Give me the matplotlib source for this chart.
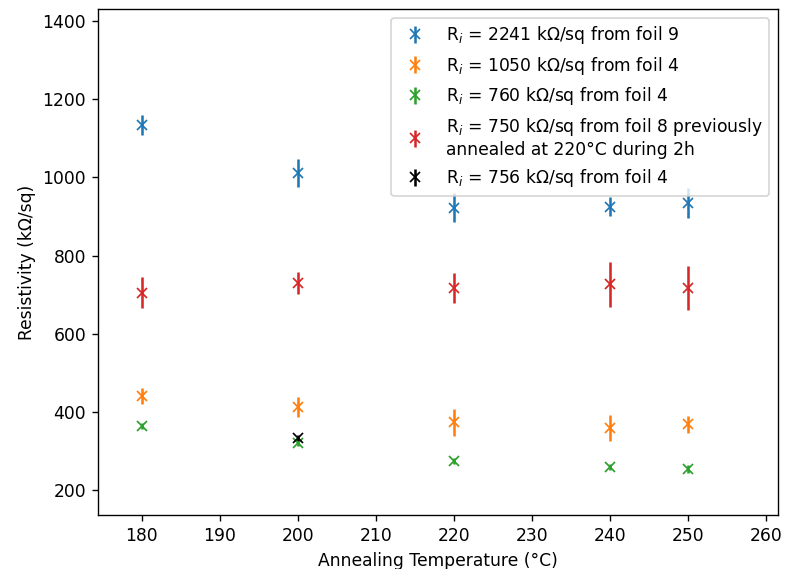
import matplotlib
matplotlib.use("Agg")
import matplotlib.pyplot as plt

temps = [180, 200, 220, 240, 250]

blue_vals = [1134, 1011, 922, 925, 934]
blue_err = [25, 35, 37, 24, 38]

orange_vals = [440, 412, 373, 359, 368]
orange_err = [20, 26, 35, 33, 22]

green_vals = [364, 320, 274, 259, 254]
green_err = [8, 8, 8, 8, 10]

red_vals = [705, 730, 717, 726, 717]
red_err = [40, 28, 38, 58, 56]

black_temps = [200]
black_vals = [333]
black_err = [8]

labels = [
    "R$_i$ = 2241 kΩ/sq from foil 9",
    "R$_i$ = 1050 kΩ/sq from foil 4",
    "R$_i$ = 760 kΩ/sq from foil 4",
    "R$_i$ = 750 kΩ/sq from foil 8 previously\nannealed at 220°C during 2h",
    "R$_i$ = 756 kΩ/sq from foil 4",
]

DPI = 123
fig = plt.figure(figsize=(785 / DPI, 569 / DPI), dpi=DPI)
ax = fig.add_axes([0.1248, 0.0949, 0.8662, 0.8893])

ax.errorbar(temps, blue_vals, yerr=blue_err, fmt='x', color='tab:blue', label=labels[0])
ax.errorbar(temps, orange_vals, yerr=orange_err, fmt='x', color='tab:orange', label=labels[1])
ax.errorbar(temps, green_vals, yerr=green_err, fmt='x', color='tab:green', label=labels[2])
ax.errorbar(temps, red_vals, yerr=red_err, fmt='x', color='tab:red', label=labels[3])
ax.errorbar(black_temps, black_vals, yerr=black_err, fmt='x', color='black', label=labels[4])

ax.set_xlim(174.4, 261.5)
ax.set_ylim(136, 1431)
ax.set_xticks(range(180, 261, 10))
ax.set_yticks(range(200, 1401, 200))
ax.set_xlabel("Annealing Temperature (°C)")
ax.set_ylabel("Resistivity (kΩ/sq)")
ax.legend(loc='upper right')

fig.savefig("out.png", dpi=DPI)
